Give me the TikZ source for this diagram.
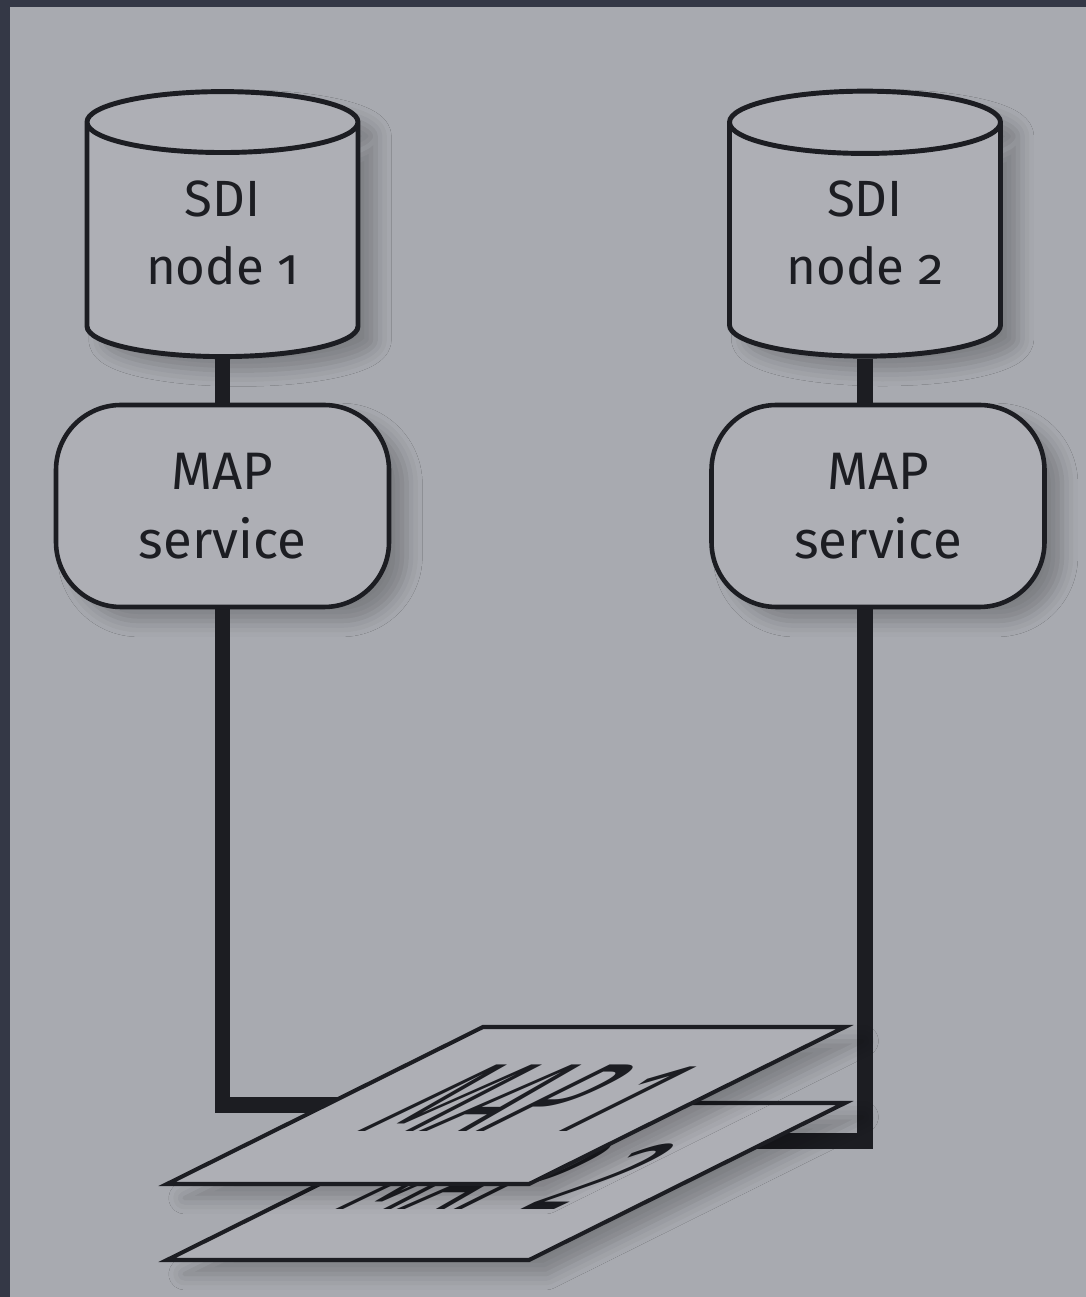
\documentclass[tikz,border=0pt]{standalone}
\usepackage{fontspec}
\setmainfont{Fira Sans}[Numbers=OldStyle]
\newfontfamily\mapfont{Fira Sans}[Numbers=Lining]
\usetikzlibrary{shapes.geometric,shadows.blur}

\definecolor{frame}{RGB}{52,56,70}
\definecolor{panel}{RGB}{168,170,176}
\definecolor{paper}{RGB}{174,175,181}
\definecolor{ink}{RGB}{28,29,34}

\tikzset{
  soft/.style={blur shadow={shadow xshift=10pt, shadow yshift=-8pt, shadow blur radius=9pt, shadow opacity=25}},
  sdi/.style={cylinder, shape border rotate=90, aspect=0.37, draw=ink, line width=2.8pt, fill=paper, soft,
    minimum width=5.42cm, minimum height=5.3cm, align=center, text=ink, font=\fontsize{29}{39}\selectfont,
    execute at end node={\rule[-0.5cm]{0pt}{0pt}}},
  svc/.style={rectangle, rounded corners=1.3cm, draw=ink, line width=2.6pt, fill=paper, soft,
    minimum width=6.66cm, minimum height=4.04cm, align=center, text=ink, font=\fontsize{30}{39}\selectfont},
  link/.style={draw=ink, line width=9pt},
  plane/.style={draw=ink, line width=2.3pt, fill=paper, soft},
  maplabel/.style={text=ink, inner sep=0pt, xscale=0.88, transform shape, font=\mapfont\fontsize{55}{55}\selectfont}
}

\begin{document}
\begin{tikzpicture}
    \useasboundingbox (0,0) rectangle (21.72,25.94);
    \fill[frame] (0,0) rectangle (21.72,25.94);
    \fill[panel] (0.2,0) rectangle (21.72,25.8);

    % the two SDI nodes and their map services
    \node[sdi] (sdi1) at (4.45,21.04) {SDI\\node 1};
    \node[sdi] (sdi2) at (17.3,21.04) {SDI\\node 2};

    \node[svc] (svc1) at (4.45,15.82) {MAP\\service};
    \node[svc] (svc2) at (17.56,15.82) {MAP\\service};

    \draw[link] (sdi1.south) -- (svc1.north);
    \draw[link] (sdi2.south) -- (sdi2.south |- svc2.north);

    % lines down to the maps
    \coordinate (m1in) at (9.6,3.84);
    \coordinate (m2in) at (14.5,3.12);
    \draw[link] (svc1.south) |- (m1in);
    \draw[link] (svc2.south -| sdi2.south) |- (m2in);

    % map 2 below, map 1 on top
    \filldraw[plane] (3.34,0.74) -- (10.58,0.74) -- (16.9,3.88) -- (9.66,3.88) -- cycle;
    \begin{scope}[shift={(6.6,1.74)}, xslant=2.013]
        \node[maplabel, anchor=base west] (map2) at (0,0) {MAP 2};
    \end{scope}

    \filldraw[plane] (3.34,2.26) -- (10.58,2.26) -- (16.9,5.4) -- (9.66,5.4) -- cycle;
    \begin{scope}[shift={(7.04,3.3)}, xslant=2.013]
        \node[maplabel, anchor=base west] (map1) at (0,0) {MAP 1};
    \end{scope}
\end{tikzpicture}
\end{document}
